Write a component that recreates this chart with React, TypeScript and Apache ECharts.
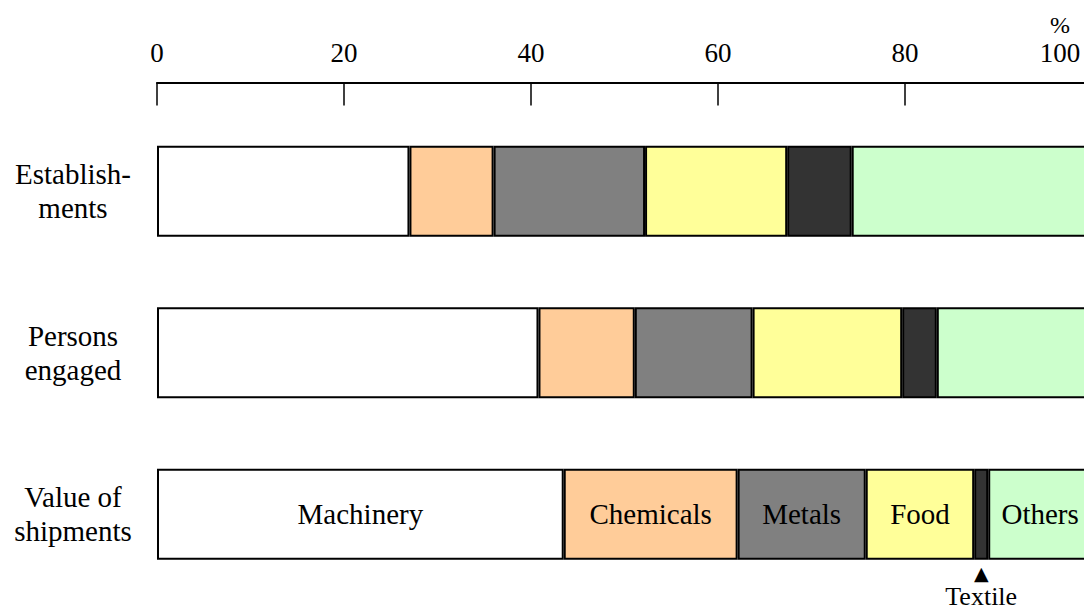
import React, { useEffect, useRef } from "react";
import * as echarts from "echarts";

const categories = ["Establish-\nments", "Persons\nengaged", "Value of\nshipments"];
const industries = ["Machinery", "Chemicals", "Metals", "Food", "Textile", "Others"];
const colors = ["#ffffff", "#ffcc99", "#808080", "#ffff99", "#333333", "#ccffcc"];
const machinery = [27.0, 40.8, 43.5];
const chemicals = [9.0, 10.3, 18.6];
const metals = [16.2, 12.6, 13.7];
const food = [15.2, 16.0, 11.6];
const textile = [6.9, 3.7, 1.5];
const others = [25.7, 16.6, 11.1];
const tickValues = [0, 20, 40, 60, 80, 100];

const FONT = "'Liberation Serif', 'Times New Roman', serif";

export default function App() {
  const ref = useRef<HTMLDivElement>(null);
  useEffect(() => {
    if (!ref.current) return;
    const chart = echarts.init(ref.current, null, { renderer: "svg" });
    const seriesValues = [machinery, chemicals, metals, food, textile, others];
    const series = seriesValues.map((vals, si) => ({
      name: industries[si],
      type: "bar",
      stack: "total",
      barWidth: 91,
      itemStyle: { color: colors[si], borderColor: "#000", borderWidth: 2 },
      data: vals.map((v, i) => {
        if (i !== 2) return { value: v, label: { show: false } };
        if (industries[si] === "Textile") {
          return {
            value: v,
            label: {
              show: true,
              position: "bottom",
              distance: 3,
              formatter: "{t|▲}\n{n|" + industries[si] + "}",
              rich: {
                t: { fontFamily: "DejaVu Sans", fontSize: 19, lineHeight: 21, color: "#000" },
                n: { fontFamily: FONT, fontSize: 26, lineHeight: 26, color: "#000" },
              },
            },
          };
        }
        return {
          value: v,
          label: {
            show: true,
            position: "inside",
            formatter: industries[si],
            fontFamily: FONT,
            fontSize: 29,
            color: "#000",
          },
        };
      }),
    }));
    chart.setOption({
      animation: false,
      textStyle: { fontFamily: FONT },
      grid: {
        left: 157,
        right: -8,
        top: 110.5,
        bottom: 16,
        containLabel: false,
        outerBoundsMode: "none",
      },
      xAxis: {
        type: "value",
        position: "top",
        min: 0,
        max: 100,
        interval: 20,
        offset: 28,
        splitLine: { show: false },
        axisLine: { show: true, lineStyle: { color: "#000", width: 2 } },
        axisTick: { show: true, inside: true, length: 23, lineStyle: { color: "#000", width: 1.5 } },
        axisLabel: {
          color: "#000",
          fontFamily: FONT,
          fontSize: 27,
          margin: 16,
          formatter: (v: number) =>
            tickValues.includes(v)
              ? v === 100
                ? "{u|%}\n{m|" + v + "}"
                : String(v)
              : "",
          rich: {
            u: { fontFamily: FONT, fontSize: 24, lineHeight: 28, width: 40, align: "center", padding: [0, 64, 0, 0], color: "#000" },
            m: { fontFamily: FONT, fontSize: 27, lineHeight: 28, width: 40, align: "center", padding: [0, 64, 0, 0], color: "#000" },
          },
        },
      },
      yAxis: {
        type: "category",
        data: categories,
        inverse: true,
        axisLine: { show: false },
        axisTick: { show: false },
        axisLabel: {
          color: "#000",
          fontFamily: FONT,
          fontSize: 29,
          lineHeight: 34,
          align: "center",
          margin: 84,
        },
      },
      series,
    });
    return () => chart.dispose();
  }, []);
  return (
    <div
      ref={ref}
      style={{ position: "absolute", left: 0, top: 0, width: 1084, height: 611, background: "#fff" }}
    />
  );
}
